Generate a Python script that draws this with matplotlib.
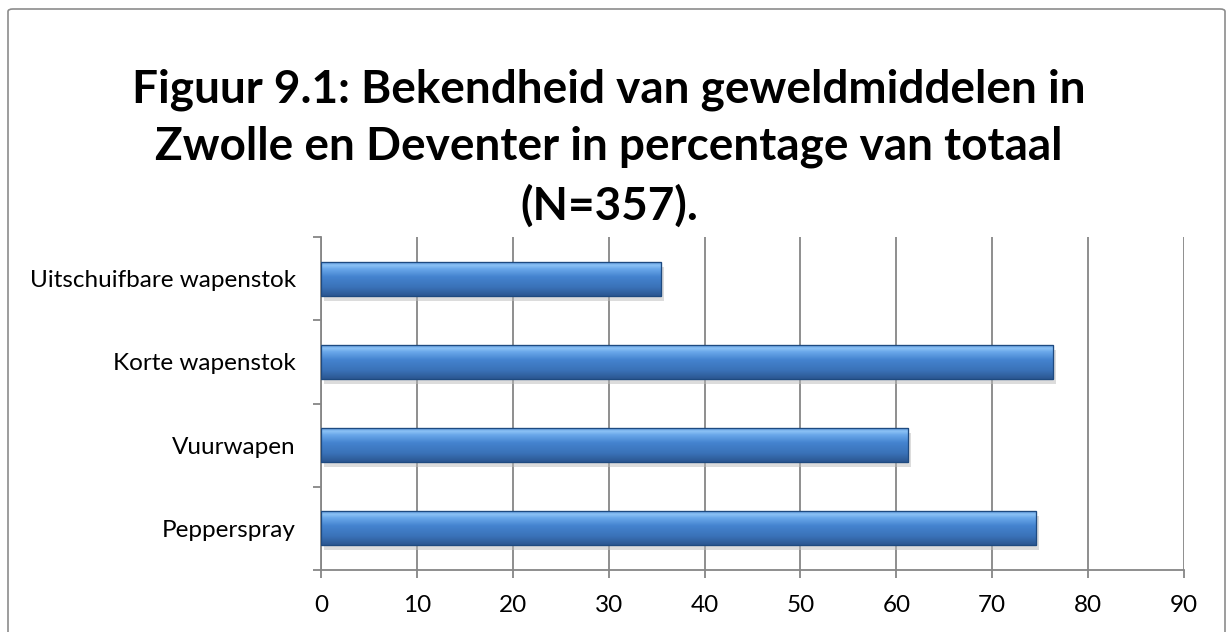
import matplotlib
matplotlib.use("Agg")
import matplotlib.pyplot as plt
import numpy as np
from matplotlib.patches import FancyBboxPatch
from matplotlib.colors import LinearSegmentedColormap

categories = ["Pepperspray", "Vuurwapen", "Korte wapenstok", "Uitschuifbare wapenstok"]
values = [74.6, 61.2, 76.3, 35.5]
xticks = [0, 10, 20, 30, 40, 50, 60, 70, 80, 90]
title = "Figuur 9.1: Bekendheid van geweldmiddelen in\nZwolle en Deventer in percentage van totaal\n(N=357)."

W, H = 1227, 632
fig = plt.figure(figsize=(W / 100, H / 100), dpi=100)
fig.patch.set_facecolor("white")

# outer chart border
border = FancyBboxPatch((8 / W, -0.05), (1225 - 8) / W, (H - 9) / H + 0.05,
                        boxstyle="round,pad=0,rounding_size=0.004",
                        transform=fig.transFigure, fill=False,
                        edgecolor="#8c8c8c", linewidth=1.2)
fig.patches.append(border)

ax = fig.add_axes([321 / W, 1 - 570 / H, (1184 - 321) / W, (570 - 237) / H])
ypos = np.arange(len(categories))
bars = ax.barh(ypos, values, height=0.41, color="#3f7cc6",
               edgecolor="#1e4a80", linewidth=0.8, zorder=3)

ax.set_xlim(0, 90)
ax.set_ylim(-0.5, len(categories) - 0.5)

# gradient fill in each bar
cmap = LinearSegmentedColormap.from_list(
    "bev", [(0.0, "#2b5690"), (0.25, "#3a72b8"), (0.55, "#4483cf"),
            (0.78, "#6aa8ea"), (0.88, "#8cc2f5"), (1.0, "#4a86cf")])
grad = np.linspace(0, 1, 256).reshape(-1, 1)
for b in bars:
    x0, y0 = b.get_x(), b.get_y()
    w, h = b.get_width(), b.get_height()
    # shadow
    ax.add_patch(plt.Rectangle((x0 + 0.3, y0 - 0.06), w, h, color="#bbbbbb",
                               alpha=0.5, zorder=2, linewidth=0))
    im = ax.imshow(grad, cmap=cmap, aspect="auto", origin="lower",
                   extent=(x0, x0 + w, y0, y0 + h), zorder=3.5,
                   interpolation="bilinear")
    im.set_clip_path(b)
    ax.add_patch(plt.Rectangle((x0, y0), w, h, fill=False,
                               edgecolor="#1e4a80", linewidth=0.9, zorder=4))
ax.set_xlim(0, 90)
ax.set_ylim(-0.5, len(categories) - 0.5)

ax.set_xticks(xticks)
ax.set_xticklabels([str(t) for t in xticks])
ax.set_yticks(ypos)
ax.set_yticklabels(categories)
ax.set_yticks(np.arange(-0.5, len(categories), 1.0), minor=True)

ax.grid(axis="x", color="#868686", linewidth=1.3, zorder=0)
ax.set_axisbelow(True)
for s in ["top", "right"]:
    ax.spines[s].set_visible(False)
for s in ["left", "bottom"]:
    ax.spines[s].set_color("#868686")
    ax.spines[s].set_linewidth(1.3)

ax.tick_params(axis="y", which="major", length=0, pad=18,
               labelsize=17.5, labelcolor="black")
ax.tick_params(axis="y", which="minor", length=6, width=1.3,
               color="#868686", direction="out")
ax.tick_params(axis="x", which="major", length=6, width=1.3,
               color="#868686", direction="out", pad=12,
               labelsize=17.5, labelcolor="black")
for lab in ax.get_xticklabels() + ax.get_yticklabels():
    lab.set_fontfamily("Lato")

fig.text(609 / W, 1 - 148 / H, title, ha="center", va="center",
         fontsize=33, fontweight="bold", fontfamily="Lato",
         linespacing=1.44, color="black")

fig.savefig("out.png", dpi=100, facecolor="white")
